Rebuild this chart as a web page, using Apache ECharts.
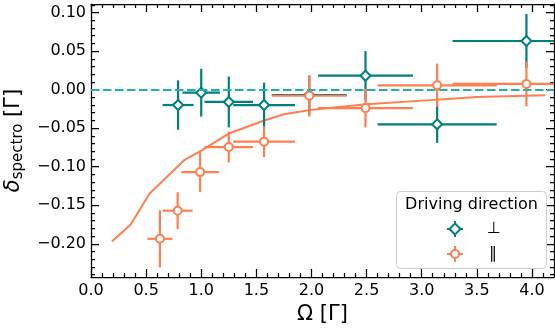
<!DOCTYPE html>
<html>
<head>
<meta charset="utf-8">
<script src="https://cdn.jsdelivr.net/npm/echarts@6/dist/echarts.min.js"></script>
<style>
  html, body { margin: 0; padding: 0; background: #fff; }
  #chart { width: 555px; height: 329px; }
</style>
</head>
<body>
<div id="chart"></div>
<script>
// perpendicular driving (teal diamonds)
const perpX = [0.79, 1.0, 1.25, 1.57, 1.98, 2.49, 3.14, 3.95]
const perpY = [-0.020, -0.004, -0.016, -0.020, -0.007, 0.018, -0.045, 0.063]
const perpXErr = [0.14, 0.17, 0.22, 0.28, 0.34, 0.43, 0.54, 0.67]
const perpYErr = [0.032, 0.031, 0.033, 0.029, 0.025, 0.032, 0.024, 0.035]

// parallel driving (orange circles)
const parX = [0.625, 0.786, 0.99, 1.25, 1.57, 1.98, 2.49, 3.14, 3.95]
const parY = [-0.1935, -0.157, -0.107, -0.0745, -0.0675, -0.008, -0.024, 0.0056, 0.0073]
const parXErr = [0.113, 0.136, 0.17, 0.22, 0.28, 0.34, 0.43, 0.54, 0.67]
const parYErr = [0.037, 0.024, 0.026, 0.020, 0.020, 0.027, 0.025, 0.028, 0.029]

// theory curve
const curveX = [0.19, 0.36, 0.53, 0.85, 1.0, 1.25, 1.57, 1.75, 2.0, 2.5, 3.14, 3.5, 4.12]
const curveY = [-0.197, -0.175, -0.135, -0.091, -0.079, -0.057, -0.040, -0.032, -0.026, -0.019, -0.013, -0.0097, -0.0074]

// tick labels
const xTicks = [0.0, 0.5, 1.0, 1.5, 2.0, 2.5, 3.0, 3.5, 4.0]
const yTicks = [-0.20, -0.15, -0.10, -0.05, 0.00, 0.05, 0.10]

const X_MIN = 0, X_MAX = 4.2
const Y_MIN = -0.243, Y_MAX = 0.111

const TEAL = '#007f7f'
const ORANGE = '#ff7f50'
const FONT = 'DejaVu Sans'

// minor ticks every 0.1 on x and 0.01 on y (skip the majors)
const xMinor = []
for (let i = 1; i <= 42; i++) if (i % 5 !== 0) xMinor.push(i / 10)
const yMinor = []
for (let i = -24; i <= 11; i++) if (i % 5 !== 0) yMinor.push(i / 100)

const chart = echarts.init(document.getElementById('chart'))

function makeAxis(kind, position, ticks, len, main) {
  const isX = kind === 'x'
  return {
    type: 'value',
    position,
    min: isX ? X_MIN : Y_MIN,
    max: isX ? X_MAX : Y_MAX,
    splitLine: { show: false },
    axisLine: { show: main, onZero: false, lineStyle: { color: '#000', width: 1.25 } },
    axisTick: {
      show: true,
      inside: true,
      length: len,
      customValues: ticks,
      lineStyle: { color: '#000', width: 1.25 },
    },
    axisLabel: { show: false },
  }
}

const xAxes = [
  Object.assign(makeAxis('x', 'bottom', xTicks, 8, true), {
    name: 'Ω [Γ]',
    nameLocation: 'middle',
    nameGap: 24,
    nameTextStyle: { fontFamily: FONT, fontSize: 21, color: '#000' },
    axisLabel: {
      show: true,
      customValues: xTicks,
      margin: 6,
      fontFamily: FONT,
      fontSize: 16,
      color: '#000',
      formatter: (v) => v.toFixed(1),
    },
  }),
  makeAxis('x', 'bottom', xMinor, 4, false),
  makeAxis('x', 'top', xTicks, 8, true),
  makeAxis('x', 'top', xMinor, 4, false),
]

const yAxes = [
  Object.assign(makeAxis('y', 'left', yTicks, 8, true), {
    name: '{d|δ}{s|spectro}{r| [Γ]}',
    nameLocation: 'middle',
    nameGap: 56,
    nameRotate: 90,
    nameTextStyle: {
      color: '#000',
      rich: {
        d: { fontFamily: FONT, fontSize: 21, fontStyle: 'italic', lineHeight: 26, verticalAlign: 'middle' },
        s: { fontFamily: FONT, fontSize: 15, lineHeight: 15, verticalAlign: 'bottom' },
        r: { fontFamily: FONT, fontSize: 21, lineHeight: 26, verticalAlign: 'middle' },
      },
    },
    axisLabel: {
      show: true,
      customValues: yTicks,
      margin: 5,
      fontFamily: FONT,
      fontSize: 16,
      color: '#000',
      formatter: (v) => (v < -1e-9 ? '\u2212' : '') + Math.abs(v).toFixed(2),
    },
  }),
  makeAxis('y', 'left', yMinor, 4, false),
  makeAxis('y', 'right', yTicks, 8, true),
  makeAxis('y', 'right', yMinor, 4, false),
]

function errorBars(xs, ys, xe, ye, color, z) {
  return {
    type: 'custom',
    z,
    clip: true,
    silent: true,
    data: xs.map((x, i) => [x, ys[i], xe[i], ye[i]]),
    renderItem: (params, api) => {
      const x = api.value(0), y = api.value(1)
      const dx = api.value(2), dy = api.value(3)
      const l = api.coord([x - dx, y]), r = api.coord([x + dx, y])
      const t = api.coord([x, y + dy]), b = api.coord([x, y - dy])
      const style = { stroke: color, lineWidth: 2.2 }
      return {
        type: 'group',
        children: [
          { type: 'line', shape: { x1: l[0], y1: l[1], x2: r[0], y2: r[1] }, style },
          { type: 'line', shape: { x1: t[0], y1: t[1], x2: b[0], y2: b[1] }, style },
        ],
      }
    },
  }
}

function markers(xs, ys, symbol, size, color, z) {
  return {
    type: 'scatter',
    z,
    symbol,
    symbolSize: size,
    silent: true,
    data: xs.map((x, i) => [x, ys[i]]),
    itemStyle: { color: '#fff', borderColor: color, borderWidth: 2, opacity: 1 },
  }
}

// legend, drawn by hand to follow the matplotlib box
const LX = 455, LY1 = 229, LY2 = 254
const legend = [
  {
    type: 'rect',
    shape: { x: 396.5, y: 191.5, width: 150, height: 77, r: 4 },
    style: { fill: 'rgba(255,255,255,0.8)', stroke: '#cccccc', lineWidth: 1 },
    z: 20,
  },
  {
    type: 'text', x: 471.5, y: 205, z: 21,
    style: { text: 'Driving direction', fontFamily: FONT, fontSize: 16, fill: '#000', align: 'center', verticalAlign: 'middle' },
  },
  { type: 'line', z: 21, shape: { x1: LX - 8, y1: LY1, x2: LX + 8, y2: LY1 }, style: { stroke: TEAL, lineWidth: 2 } },
  { type: 'line', z: 21, shape: { x1: LX, y1: LY1 - 8, x2: LX, y2: LY1 + 8 }, style: { stroke: TEAL, lineWidth: 2 } },
  { type: 'polygon', z: 22, shape: { points: [[LX, LY1 - 5.5], [LX + 5.5, LY1], [LX, LY1 + 5.5], [LX - 5.5, LY1]] }, style: { fill: '#fff', stroke: TEAL, lineWidth: 2 } },
  { type: 'line', z: 21, shape: { x1: LX - 8, y1: LY2, x2: LX + 8, y2: LY2 }, style: { stroke: ORANGE, lineWidth: 2 } },
  { type: 'line', z: 21, shape: { x1: LX, y1: LY2 - 8, x2: LX, y2: LY2 + 8 }, style: { stroke: ORANGE, lineWidth: 2 } },
  { type: 'circle', z: 22, shape: { cx: LX, cy: LY2, r: 4 }, style: { fill: '#fff', stroke: ORANGE, lineWidth: 2 } },
  {
    type: 'text', x: 494, y: LY1, z: 21,
    style: { text: '⊥', fontFamily: FONT, fontSize: 16, fill: '#000', align: 'center', verticalAlign: 'middle' },
  },
  {
    type: 'text', x: 493, y: LY2, z: 21,
    style: { text: '∥', fontFamily: FONT, fontSize: 16, fill: '#000', align: 'center', verticalAlign: 'middle' },
  },
]

const option = {
  animation: false,
  backgroundColor: '#fff',
  grid: { left: 91, right: 1, top: 4, bottom: 52, containLabel: false, outerBoundsMode: 'none' },
  xAxis: xAxes,
  yAxis: yAxes,
  series: [
    {
      type: 'line',
      z: 1,
      symbol: 'none',
      silent: true,
      data: curveX.map((x, i) => [x, curveY[i]]),
      lineStyle: { color: ORANGE, width: 2 },
      markLine: {
        silent: true,
        symbol: 'none',
        label: { show: false },
        lineStyle: { color: '#20b2aa', width: 2, type: [8.5, 3.5] },
        data: [{ yAxis: 0 }],
      },
    },
    errorBars(perpX, perpY, perpXErr, perpYErr, TEAL, 2),
    markers(perpX, perpY, 'diamond', 10, TEAL, 3),
    errorBars(parX, parY, parXErr, parYErr, ORANGE, 4),
    markers(parX, parY, 'circle', 8, ORANGE, 5),
  ],
  graphic: legend,
}

chart.setOption(option)
</script>
</body>
</html>
